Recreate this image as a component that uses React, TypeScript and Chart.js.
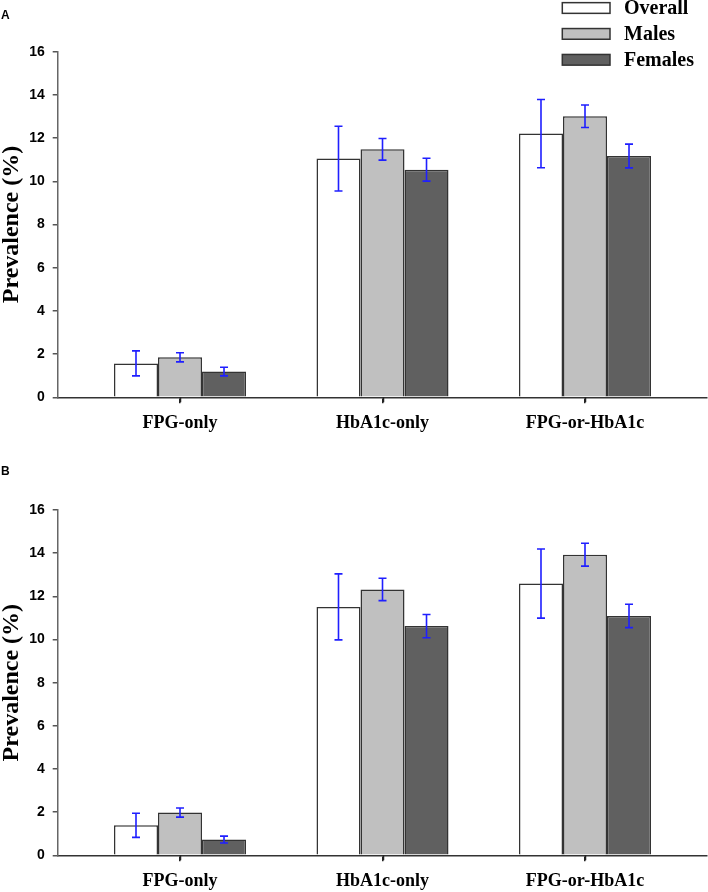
import React, { useEffect, useRef } from "react";
import { Chart, registerables } from "chart.js";

Chart.register(...registerables);

// ---------- data ----------
const categories = ["FPG-only", "HbA1c-only", "FPG-or-HbA1c"];
const seriesNames = ["Overall", "Males", "Females"];
const yTicks = [0, 2, 4, 6, 8, 10, 12, 14, 16];

// Panel A
const overallA = [1.57, 11.05, 12.21];
const malesA = [1.85, 11.48, 13.01];
const femalesA = [1.19, 10.54, 11.17];
const overallErrA = [0.58, 1.5, 1.58];
const malesErrA = [0.21, 0.5, 0.52];
const femalesErrA = [0.2, 0.53, 0.55];

// Panel B
const overallB = [1.39, 11.51, 12.59];
const malesB = [1.98, 12.32, 13.93];
const femalesB = [0.73, 10.62, 11.09];
const overallErrB = [0.56, 1.53, 1.6];
const malesErrB = [0.21, 0.52, 0.53];
const femalesErrB = [0.16, 0.54, 0.54];

// ---------- styles ----------
const fills = ["#ffffff", "#c0c0c0", "#606060"];
const BAR_BORDER = "#333333";
const ERR_COLOR = "#1f1fff";
const SERIF = '"Liberation Serif", "Times New Roman", serif';
const SANS = '"Liberation Sans", Arial, sans-serif';

const errorBarPlugin = {
  id: "errorBars",
  afterDatasetsDraw(chart: any) {
    const ctx = chart.ctx;
    const yScale = chart.scales.y;
    ctx.save();
    ctx.strokeStyle = ERR_COLOR;
    ctx.lineWidth = 1.6;
    chart.data.datasets.forEach((ds: any, i: number) => {
      const meta = chart.getDatasetMeta(i);
      meta.data.forEach((el: any, j: number) => {
        const v = ds.data[j].y;
        const e = ds.errors[j];
        const x = el.x;
        const yt = yScale.getPixelForValue(v + e);
        const yb = yScale.getPixelForValue(v - e);
        const cap = 4;
        ctx.beginPath();
        ctx.moveTo(x, yt);
        ctx.lineTo(x, yb);
        ctx.moveTo(x - cap, yt);
        ctx.lineTo(x + cap, yt);
        ctx.moveTo(x - cap, yb);
        ctx.lineTo(x + cap, yb);
        ctx.stroke();
      });
    });
    ctx.restore();
  },
};

// tick marks under the category axis, placed by the x scale
const xTickMarksPlugin = {
  id: "xTickMarks",
  afterDraw(chart: any) {
    const ctx = chart.ctx;
    const xs = chart.scales.x;
    const y0 = chart.chartArea.bottom;
    ctx.save();
    ctx.strokeStyle = "#222";
    ctx.lineWidth = 1.5;
    ctx.beginPath();
    xs.ticks.forEach((t: any) => {
      const px = Math.round(xs.getPixelForValue(t.value)) + 0.5;
      ctx.moveTo(px, y0);
      ctx.lineTo(px, y0 + 5);
    });
    ctx.stroke();
    ctx.restore();
  },
};

const boxLegendPlugin = {
  id: "boxLegend",
  afterDraw(chart: any, _args: any, opts: any) {
    if (!opts || !opts.display) return;
    const ctx = chart.ctx;
    ctx.save();
    chart.data.datasets.forEach((ds: any, i: number) => {
      const yc = opts.top + i * opts.rowGap;
      const w = opts.boxWidth;
      const h = opts.boxHeight;
      ctx.fillStyle = ds.backgroundColor;
      ctx.fillRect(opts.left, yc - h / 2, w, h);
      ctx.strokeStyle = BAR_BORDER;
      ctx.lineWidth = 1.5;
      ctx.strokeRect(opts.left, yc - h / 2, w, h);
      ctx.fillStyle = "#000";
      ctx.font = `bold 20px ${SERIF}`;
      ctx.textBaseline = "middle";
      ctx.textAlign = "left";
      ctx.fillText(ds.label, opts.textX, yc + 1);
    });
    ctx.restore();
  },
};

type PanelProps = {
  values: number[][];
  errors: number[][];
  height: number;
  padTop: number;
  xAxisHeight: number;
  showLegend: boolean;
};

function Panel({ values, errors, height, padTop, xAxisHeight, showLegend }: PanelProps) {
  const ref = useRef<HTMLCanvasElement | null>(null);
  useEffect(() => {
    if (!ref.current) return;
    const chart = new Chart(ref.current, {
      type: "bar",
      data: {
        datasets: values.map((vals, i) => ({
          label: seriesNames[i],
          data: vals.map((v, j) => ({ x: j, y: v })),
          backgroundColor: fills[i],
          borderColor: BAR_BORDER,
          borderWidth: 1.5,
          categoryPercentage: 0.652,
          barPercentage: 1,
          errors: errors[i],
        })) as any,
      },
      options: {
        animation: false,
        responsive: false,
        devicePixelRatio: 1,
        layout: { padding: { top: padTop, right: 1.5, left: 0, bottom: 0 } },
        plugins: {
          legend: { display: false },
          tooltip: { enabled: false },
          boxLegend: {
            display: showLegend,
            left: 562.3,
            textX: 624,
            top: 8,
            rowGap: 25.9,
            boxWidth: 47.7,
            boxHeight: 10.7,
          },
        } as any,
        scales: {
          x: {
            type: "linear",
            min: -0.604,
            max: 2.6,
            offset: false,
            afterBuildTicks: (s: any) => {
              s.ticks = categories.map((_, i) => ({ value: i }));
            },
            afterFit: (s: any) => {
              s.height = xAxisHeight;
            },
            ticks: {
              callback: (v: any) => categories[v] ?? "",
              font: { family: SERIF, weight: "bold", size: 18 },
              color: "#000",
              padding: 9,
              maxRotation: 0,
              autoSkip: false,
            },
            grid: {
              offset: false,
              drawOnChartArea: false,
              drawTicks: true,
              tickLength: 6,
              color: "#222",
              lineWidth: 1.5,
            },
            border: { display: true, color: "#333", width: 1.5 },
          } as any,
          y: {
            min: 0,
            max: 16,
            afterBuildTicks: (s: any) => {
              s.ticks = yTicks.map((v) => ({ value: v }));
            },
            afterFit: (s: any) => {
              s.width = 57.7;
            },
            ticks: {
              font: { family: SANS, weight: "bold", size: 14 },
              color: "#000",
              padding: 8,
            },
            grid: {
              drawOnChartArea: false,
              drawTicks: true,
              tickLength: 5,
              color: "#555",
              lineWidth: 1.5,
            },
            border: { display: true, color: "#666", width: 1.5 },
            title: {
              display: true,
              text: "Prevalence (%)",
              color: "#000",
              font: { family: SERIF, weight: "bold", size: 24, lineHeight: 1 },
              padding: 0,
            },
          } as any,
        },
      },
      plugins: [errorBarPlugin, xTickMarksPlugin, boxLegendPlugin],
    });
    return () => chart.destroy();
  }, []);
  return <canvas ref={ref} width={708} height={height} style={{ display: "block", width: 708, height }} />;
}

const letterStyle: React.CSSProperties = {
  position: "absolute",
  left: 1,
  font: `bold 12px ${SANS}`,
  color: "#000",
  lineHeight: "12px",
};

export default function App() {
  return (
    <div style={{ position: "absolute", left: 0, top: 0, width: 708, height: 892, background: "#fff" }}>
      <div style={{ position: "absolute", left: 0, top: 0 }}>
        <Panel
          values={[overallA, malesA, femalesA]}
          errors={[overallErrA, malesErrA, femalesErrA]}
          height={440}
          padTop={51.7}
          xAxisHeight={42.7}
          showLegend={true}
        />
      </div>
      <div style={{ position: "absolute", left: 0, top: 440 }}>
        <Panel
          values={[overallB, malesB, femalesB]}
          errors={[overallErrB, malesErrB, femalesErrB]}
          height={452}
          padTop={70}
          xAxisHeight={36.7}
          showLegend={false}
        />
      </div>
      <div style={{ ...letterStyle, top: 9 }}>A</div>
      <div style={{ ...letterStyle, top: 465 }}>B</div>
    </div>
  );
}
